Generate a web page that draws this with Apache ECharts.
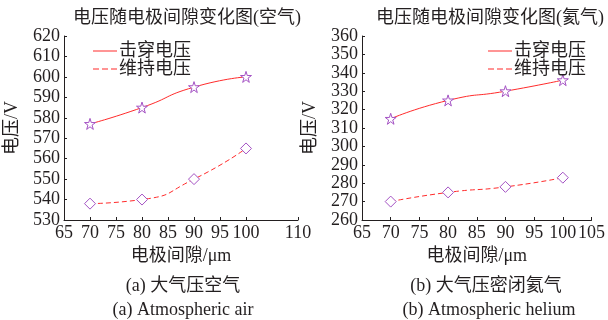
<!DOCTYPE html>
<html>
<head>
<meta charset="utf-8">
<script src="https://cdn.jsdelivr.net/npm/echarts@6/dist/echarts.min.js"></script>
<style>
  html, body { margin: 0; padding: 0; background: #fff; }
  #chart { width: 608px; height: 320px; }
</style>
</head>
<body>
<div id="chart"></div>
<script>
// Electrode gap (μm) and measured voltages (V)
const gaps = [70, 80, 90, 100];
const airBreakdown = [577, 585, 595, 600];
const airSustain = [538, 540, 550, 565];
const heliumBreakdown = [315, 325, 330, 336];
const heliumSustain = [270, 275, 278, 283];

const seriesNames = ['击穿电压', '维持电压'];
const panelTitles = ['电压随电极间隙变化图(空气)', '电压随电极间隙变化图(氦气)'];
const captionsCn = ['(a) 大气压空气', '(b) 大气压密闭氦气'];
const captionsEn = ['(a) Atmospheric air', '(b) Atmospheric helium'];
const xName = '电极间隙/μm';
const yName = '电压/V';

const FONT = "'Liberation Serif', 'Noto Sans CJK SC', serif";
const TXT = '#231f20';
const LINE = '#ff2b2b';
const MARK = '#a452c4';
const STAR = 'path://M50,2 L61,37 L98,37 L68,59 L79,95 L50,73 L21,95 L32,59 L2,37 L39,37 Z';

const pairs = v => gaps.map((g, i) => [g, v[i]]);

function xAxis(idx, max) {
  return {
    gridIndex: idx, type: 'value', min: 65, max: max, interval: 5,
    name: xName, nameLocation: 'middle', nameGap: 26,
    nameTextStyle: { fontFamily: FONT, fontSize: 18, color: TXT },
    axisLine: { lineStyle: { color: TXT, width: 1 } },
    axisTick: { inside: true, length: 3, lineStyle: { color: TXT } },
    axisLabel: { fontFamily: FONT, fontSize: 18, color: TXT, margin: 4, showMaxLabel: true },
    splitLine: { show: false }
  };
}
function yAxis(idx, min, max) {
  return {
    gridIndex: idx, type: 'value', min: min, max: max, interval: 10,
    name: yName, nameLocation: 'middle', nameGap: 43,
    nameTextStyle: { fontFamily: FONT, fontSize: 18, color: TXT },
    axisLine: { show: true, lineStyle: { color: TXT, width: 1 } },
    axisTick: { show: true, inside: true, length: 3, lineStyle: { color: TXT } },
    axisLabel: { fontFamily: FONT, fontSize: 18, color: TXT, margin: 4 },
    splitLine: { show: false }
  };
}
function series(idx, name, values, dashed, symbol, size) {
  return {
    name: name, type: 'line', xAxisIndex: idx, yAxisIndex: idx,
    data: pairs(values), smooth: 0.6,
    symbol: symbol, symbolSize: size,
    lineStyle: { color: LINE, width: 1, type: dashed ? [5, 3] : 'solid' },
    itemStyle: { color: '#fff', borderColor: MARK, borderWidth: 1 },
    emphasis: { disabled: true }
  };
}
const legendItem = { color: LINE, borderWidth: 0 };
function legend(left) {
  return {
    left: left, top: 37, orient: 'vertical', itemGap: 0,
    itemWidth: 24, itemHeight: 2, itemGap: 0, selectedMode: false,
    textStyle: { fontFamily: FONT, fontSize: 18, color: TXT, padding: [0, 0, 0, -3] },
    data: [
      { name: seriesNames[0], icon: 'path://M0,0H24V1H0Z', itemStyle: legendItem },
      { name: seriesNames[1], icon: 'path://M0,0H6V1H0ZM9,0H15V1H9ZM18,0H24V1H18Z', itemStyle: legendItem }
    ]
  };
}
function caption(text, x, y) {
  return { text: text, left: x, top: y, textAlign: 'center',
    textStyle: { fontFamily: FONT, fontSize: 18, fontWeight: 'normal', color: TXT } };
}

const chart = echarts.init(document.getElementById('chart'), null, { renderer: 'canvas' });
chart.setOption({
  backgroundColor: '#fff',
  animation: false,
  title: [
    caption(panelTitles[0], 182, 4),
    caption(panelTitles[1], 485, 4),
    caption(captionsCn[0], 178, 272),
    caption(captionsCn[1], 481, 272),
    caption(captionsEn[0], 178, 296),
    caption(captionsEn[1], 484, 296)
  ],
  legend: [legend(88), legend(483)],
  grid: [
    { left: 64, top: 36, width: 234, height: 184 },
    { left: 362, top: 36, width: 233, height: 184 }
  ],
  xAxis: [xAxis(0, 110), xAxis(1, 105)],
  yAxis: [yAxis(0, 530, 620), yAxis(1, 260, 360)],
  series: [
    series(0, seriesNames[0], airBreakdown, false, STAR, 11),
    series(0, seriesNames[1], airSustain, true, 'diamond', 11),
    series(1, seriesNames[0], heliumBreakdown, false, STAR, 11),
    series(1, seriesNames[1], heliumSustain, true, 'diamond', 11)
  ]
});
</script>
</body>
</html>
